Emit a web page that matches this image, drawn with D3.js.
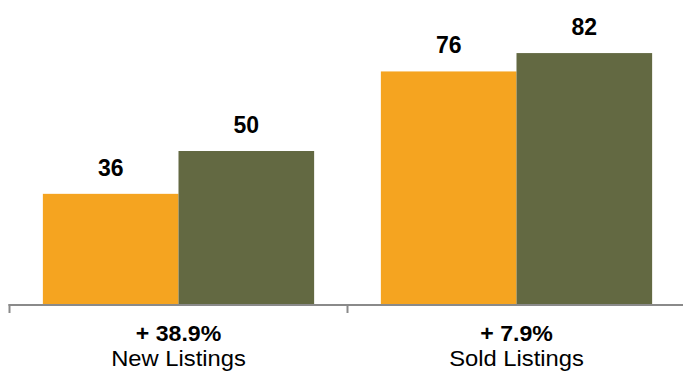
<!DOCTYPE html>
<html>
<head>
<meta charset="utf-8">
<script src="https://cdn.jsdelivr.net/npm/d3@7"></script>
<style>
  html, body { margin: 0; padding: 0; background: #fff; }
  svg { display: block; font-family: "Liberation Sans", Arial, Helvetica, sans-serif; }
</style>
</head>
<body>
<svg id="chart" width="683" height="373"></svg>
<script>
const categories = ["New Listings", "Sold Listings"];
const changeLabels = ["+ 38.9%", "+ 7.9%"];
const seriesNames = ["Previous", "Current"];
const previousValues = [36, 76];
const currentValues = [50, 82];
const colors = ["#F5A420", "#636942"];

const data = categories.map((c, i) => ({
  category: c,
  change: changeLabels[i],
  values: [previousValues[i], currentValues[i]]
}));

const svg = d3.select("#chart");
const baseY = 304;

const x0 = d3.scaleBand().domain(categories).range([9.5, 685.5]).paddingInner(0).paddingOuter(0);
const x1 = d3.scaleBand().domain(seriesNames).range([0, x0.bandwidth()]).paddingInner(0).paddingOuter(0.246);
const y = d3.scaleLinear().domain([0, 100]).range([baseY, -2]);

const groups = svg.selectAll("g.grp").data(data).join("g")
  .attr("class", "grp")
  .attr("transform", d => `translate(${x0(d.category)},0)`);

groups.selectAll("rect").data(d => d.values.map((v, i) => ({ s: seriesNames[i], v, i }))).join("rect")
  .attr("x", d => x1(d.s))
  .attr("width", x1.bandwidth())
  .attr("y", d => y(d.v))
  .attr("height", d => y(0) - y(d.v))
  .attr("fill", d => colors[d.i]);

groups.selectAll("text.val").data(d => d.values.map((v, i) => ({ s: seriesNames[i], v, i }))).join("text")
  .attr("class", "val")
  .attr("x", d => x1(d.s) + x1.bandwidth() / 2)
  .attr("y", d => y(d.v) - 18)
  .attr("text-anchor", "middle")
  .attr("font-size", 23)
  .attr("font-weight", "bold")
  .attr("fill", "#000")
  .text(d => d.v);

// axis line and ticks at band edges
const axisColor = "#8a8a8a";
svg.append("line")
  .attr("x1", x0.range()[0] - 1).attr("x2", 683)
  .attr("y1", baseY + 1).attr("y2", baseY + 1)
  .attr("stroke", axisColor).attr("stroke-width", 2);

const edges = categories.map(c => x0(c)).concat([x0.range()[1]]);
svg.selectAll("line.tick").data(edges).join("line")
  .attr("class", "tick")
  .attr("x1", d => d).attr("x2", d => d)
  .attr("y1", baseY).attr("y2", baseY + 9)
  .attr("stroke", axisColor).attr("stroke-width", 2);

const labels = svg.selectAll("g.lab").data(data).join("g")
  .attr("class", "lab")
  .attr("transform", d => `translate(${x0(d.category) + x0.bandwidth() / 2},0)`);

const changeText = labels.append("text")
  .attr("y", 340.5)
  .attr("text-anchor", "middle")
  .attr("font-size", 22)
  .attr("font-weight", "bold")
  .attr("fill", "#000")
  .text(d => d.change);

const catText = labels.append("text")
  .attr("y", 366)
  .attr("text-anchor", "middle")
  .attr("font-size", 22)
  .attr("fill", "#000")
  .text(d => d.category);

// widen slightly to mimic the reference's wider sans face
changeText.each(function() {
  const w = this.getComputedTextLength();
  d3.select(this).attr("textLength", w * 1.05).attr("lengthAdjust", "spacingAndGlyphs");
});
catText.each(function() {
  const w = this.getComputedTextLength();
  d3.select(this).attr("textLength", w * 1.08).attr("lengthAdjust", "spacingAndGlyphs");
});
</script>
</body>
</html>
